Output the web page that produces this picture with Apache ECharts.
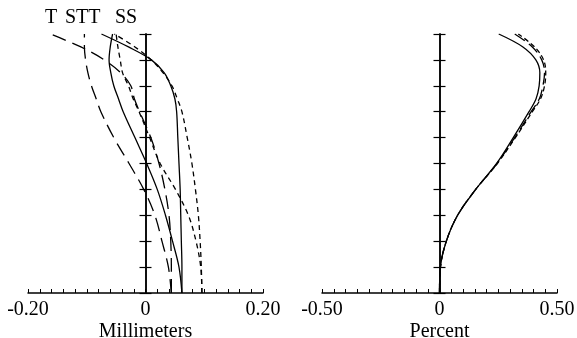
<!DOCTYPE html>
<html>
<head>
<meta charset="utf-8">
<script src="https://cdn.jsdelivr.net/npm/echarts@6/dist/echarts.min.js"></script>
<style>
html,body{margin:0;padding:0;background:#fff;}
#c{width:577px;height:338px;}
</style>
</head>
<body>
<div id="c"></div>
<script>
// Relative field (vertical axis, 0..1)
const field = [0, 0.1, 0.2, 0.3, 0.4, 0.5, 0.6, 0.7, 0.75, 0.8, 0.85, 0.9, 0.95, 1.0];

// Field curvature, millimeters
const solidS = [0.062, 0.062, 0.061, 0.060, 0.059, 0.057, 0.055, 0.053, 0.050, 0.043, 0.032, 0.010, -0.029, -0.075];
const solidT = [0.062, 0.057, 0.046, 0.034, 0.020, 0.002, -0.018, -0.038, -0.046, -0.054, -0.059, -0.062, -0.060, -0.056];
const longT1 = [0.044, 0.044, 0.043, 0.040, 0.033, 0.023, 0.009, -0.010, -0.019, -0.025, -0.042, -0.070, -0.110, -0.162];
const longT2 = [0.044, 0.039, 0.028, 0.016, -0.003, -0.028, -0.054, -0.076, -0.084, -0.092, -0.098, -0.102, -0.104, -0.104];
const shortT = [0.096, 0.094, 0.086, 0.073, 0.051, 0.025, 0.007, -0.011, -0.021, -0.029, -0.039, -0.043, -0.047, -0.050];
const shortS = [0.096, 0.095, 0.093, 0.090, 0.085, 0.079, 0.071, 0.062, 0.054, 0.045, 0.030, 0.010, -0.018, -0.053];

// Distortion, percent
const distSolid = [0, 0.004, 0.029, 0.077, 0.154, 0.243, 0.314, 0.381, 0.411, 0.424, 0.427, 0.410, 0.355, 0.252];
const distLong  = [0, 0.004, 0.029, 0.077, 0.154, 0.245, 0.320, 0.390, 0.425, 0.440, 0.447, 0.435, 0.395, 0.320];
const distShort = [0, 0.004, 0.029, 0.077, 0.154, 0.246, 0.323, 0.395, 0.430, 0.447, 0.452, 0.443, 0.405, 0.335];

// Tick labels / names
const mmTicks = [-0.2, 0, 0.2];
const pctTicks = [-0.5, 0, 0.5];
const curveLabels = [
  {text: 'T', x: 45},
  {text: 'STT', x: 65},
  {text: 'SS', x: 115}
];

const FONT = "'Liberation Serif','Times New Roman',serif";
const pair = (xs) => xs.map((v, i) => [v, field[i]]);
const fmt = (v) => (Math.abs(v) < 1e-9 ? '0' : v.toFixed(2));

function xAx(grid, min, max, interval, name) {
  return {
    type: 'value', gridIndex: grid, min: min, max: max, interval: interval,
    name: name, nameLocation: 'middle', nameGap: 29, nameMoveOverlap: false,
    nameTextStyle: {fontFamily: FONT, fontSize: 20, color: '#000'},
    axisLine: {show: true, lineStyle: {color: '#000', width: 1.5}},
    axisTick: {show: true, inside: true, length: 4, lineStyle: {color: '#000', width: 1}},
    minorTick: {show: true, splitNumber: 10, length: 4, lineStyle: {color: '#000', width: 1}},
    axisLabel: {fontFamily: FONT, fontSize: 20, color: '#000', margin: 7, formatter: fmt, showMinLabel: true, showMaxLabel: true},
    splitLine: {show: false}, minorSplitLine: {show: false}
  };
}
function yAx(grid, inside) {
  return {
    type: 'value', gridIndex: grid, min: 0, max: 1, interval: 0.1, position: 'left',
    axisLine: {show: true, onZero: true, onZeroAxisIndex: grid, lineStyle: {color: '#000', width: 1.5}},
    axisTick: {show: true, inside: inside, length: 6, lineStyle: {color: '#000', width: 1.2}},
    axisLabel: {show: false}, splitLine: {show: false}
  };
}
function line(xs, grid, yIdx, dash) {
  return {
    type: 'line', xAxisIndex: grid, yAxisIndex: yIdx, data: pair(xs),
    smooth: 0.35, showSymbol: false, symbol: 'none', silent: true, animation: false,
    lineStyle: {color: '#000', width: 1.3, type: dash}
  };
}

const chart = echarts.init(document.getElementById('c'), null, {renderer: 'canvas'});
chart.setOption({
  animation: false,
  backgroundColor: '#fff',
  grid: [
    {left: 28, top: 34, width: 235, height: 259, containLabel: false, outerBoundsMode: 'none'},
    {left: 322, top: 34, width: 235, height: 259, containLabel: false, outerBoundsMode: 'none'}
  ],
  xAxis: [
    xAx(0, mmTicks[0], mmTicks[2], mmTicks[2] - mmTicks[1], 'Millimeters'),
    xAx(1, pctTicks[0], pctTicks[2], pctTicks[2] - pctTicks[1], 'Percent')
  ],
  yAxis: [yAx(0, false), yAx(0, true), yAx(1, false), yAx(1, true)],
  series: [
    line(solidS, 0, 0, 'solid'),
    line(solidT, 0, 0, 'solid'),
    line(longT1, 0, 0, [14, 7]),
    line(longT2, 0, 0, [14, 7]),
    line(shortT, 0, 0, [5, 4]),
    line(shortS, 0, 0, [5, 4]),
    line(distSolid, 1, 2, 'solid'),
    line(distLong, 1, 2, [12, 5]),
    line(distShort, 1, 2, [5, 3])
  ],
  graphic: curveLabels.map(l => ({
    type: 'text', left: l.x, top: 8,
    style: {text: l.text, font: '20px ' + FONT, fill: '#000'}
  }))
});
</script>
</body>
</html>
